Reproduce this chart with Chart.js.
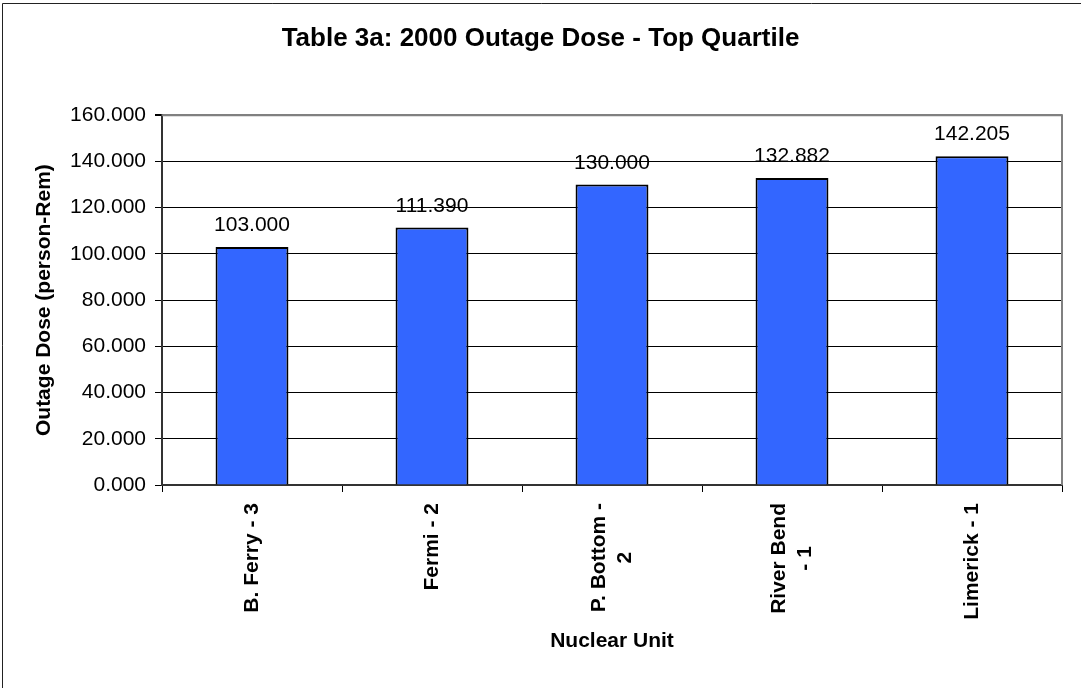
<!DOCTYPE html>
<html>
<head>
<meta charset="utf-8">
<title>2000 Outage Dose - Top Quartile</title>
<script src="https://cdn.jsdelivr.net/npm/chart.js@4.4.1/dist/chart.umd.min.js"></script>
<style>
  html, body { margin: 0; padding: 0; background: #fff; }
  #wrap { width: 1081px; height: 688px; position: relative; }
</style>
</head>
<body>
<div id="wrap"><canvas id="doseChart"></canvas></div>
<script>
// Chart data
const units = [['B. Ferry - 3'], ['Fermi - 2'], ['P. Bottom -', '2'], ['River Bend', '- 1'], ['Limerick - 1']];
const doses = [103.000, 111.390, 130.000, 132.882, 142.205];
const yMin = 0;
const yMax = 160;
const yStep = 20;

const FONT = '"Liberation Sans", Arial, Helvetica, sans-serif';

// White background and the outer frame (only left/top edges show)
const framePlugin = {
  id: 'frame',
  beforeDraw(chart) {
    const ctx = chart.ctx;
    ctx.save();
    ctx.fillStyle = '#fff';
    ctx.fillRect(0, 0, chart.width, chart.height);
    ctx.strokeStyle = '#222';
    ctx.lineWidth = 1;
    ctx.beginPath();
    ctx.moveTo(2.5, chart.height);
    ctx.lineTo(2.5, 3.5);
    ctx.lineTo(chart.width, 3.5);
    ctx.stroke();
    ctx.restore();
  },
  afterDatasetsDraw(chart) {
    // gray plot-area edge on the right
    const a = chart.chartArea;
    const ctx = chart.ctx;
    ctx.save();
    ctx.strokeStyle = '#808080';
    ctx.lineWidth = 2;
    ctx.beginPath();
    ctx.moveTo(a.left, a.top);
    ctx.lineTo(a.right, a.top);
    ctx.lineTo(a.right, a.bottom);
    ctx.stroke();
    ctx.restore();
  }
};

// Value labels above bars
const valueLabels = {
  id: 'valueLabels',
  afterDatasetsDraw(chart) {
    const ctx = chart.ctx;
    const meta = chart.getDatasetMeta(0);
    ctx.save();
    ctx.font = '21px ' + FONT;
    ctx.fillStyle = '#000';
    ctx.textAlign = 'center';
    ctx.textBaseline = 'alphabetic';
    meta.data.forEach((bar, i) => {
      ctx.fillText(doses[i].toFixed(3), bar.x, bar.y - 16);
    });
    ctx.restore();
  }
};

// Rotated category labels, lines centred on each other
const unitLabels = {
  id: 'unitLabels',
  afterDraw(chart) {
    const xs = chart.scales.x;
    const ctx = chart.ctx;
    ctx.save();
    ctx.font = 'bold 21px ' + FONT;
    ctx.fillStyle = '#000';
    ctx.textAlign = 'center';
    ctx.textBaseline = 'middle';
    units.forEach((lines, i) => {
      const x = xs.getPixelForValue(i);
      const w = Math.max(...lines.map(l => ctx.measureText(l).width));
      const y = xs.top + 18 + w / 2;
      lines.forEach((line, j) => {
        const dx = (j - (lines.length - 1) / 2) * 26;
        ctx.save();
        ctx.translate(x + dx, y);
        ctx.rotate(-Math.PI / 2);
        ctx.fillText(line, 0, 0);
        ctx.restore();
      });
    });
    ctx.restore();
  }
};

new Chart(document.getElementById('doseChart'), {
  type: 'bar',
  data: {
    labels: units,
    datasets: [{
      label: 'Outage Dose',
      data: doses,
      backgroundColor: '#3366FF',
      borderColor: '#000',
      borderWidth: 2,
      barPercentage: 0.405,
      categoryPercentage: 1.0
    }]
  },
  options: {
    responsive: true,
    maintainAspectRatio: false,
    animation: false,
    layout: { padding: { top: 0, left: 19, right: 19, bottom: 0 } },
    plugins: {
      legend: { display: false },
      tooltip: { enabled: false },
      title: {
        display: true,
        text: 'Table 3a: 2000 Outage Dose - Top Quartile',
        color: '#000',
        font: { family: FONT, size: 26, weight: 'bold', lineHeight: 1.2 },
        padding: { top: 23, bottom: 61 }
      }
    },
    scales: {
      x: {
        grid: {
          offset: true,
          drawOnChartArea: false,
          color: '#000',
          tickColor: '#000',
          tickLength: 7
        },
        border: { color: '#333', width: 2 },
        ticks: { display: false },
        title: {
          display: true,
          text: 'Nuclear Unit',
          color: '#000',
          font: { family: FONT, size: 21, weight: 'bold', lineHeight: 1.2 },
          padding: { top: 0, bottom: 34 }
        },
        afterFit(scale) { scale.height = 203; }
      },
      y: {
        min: yMin,
        max: yMax,
        grid: {
          color: c => (c.tick && c.tick.value === yMax) ? '#808080' : '#000',
          lineWidth: c => (c.tick && c.tick.value === yMax) ? 2 : 1,
          tickColor: '#000',
          tickLength: 7
        },
        border: { color: '#333', width: 2 },
        ticks: {
          stepSize: yStep,
          padding: 9,
          color: '#000',
          font: { family: FONT, size: 21 },
          callback: v => Number(v).toFixed(3)
        },
        title: {
          display: true,
          text: 'Outage Dose (person-Rem)',
          color: '#000',
          font: { family: FONT, size: 21, weight: 'bold', lineHeight: 1.2 },
          padding: { top: 13, bottom: 0 }
        },
        afterFit(scale) { scale.width = 143; }
      }
    }
  },
  plugins: [framePlugin, valueLabels, unitLabels]
});
</script>
</body>
</html>
